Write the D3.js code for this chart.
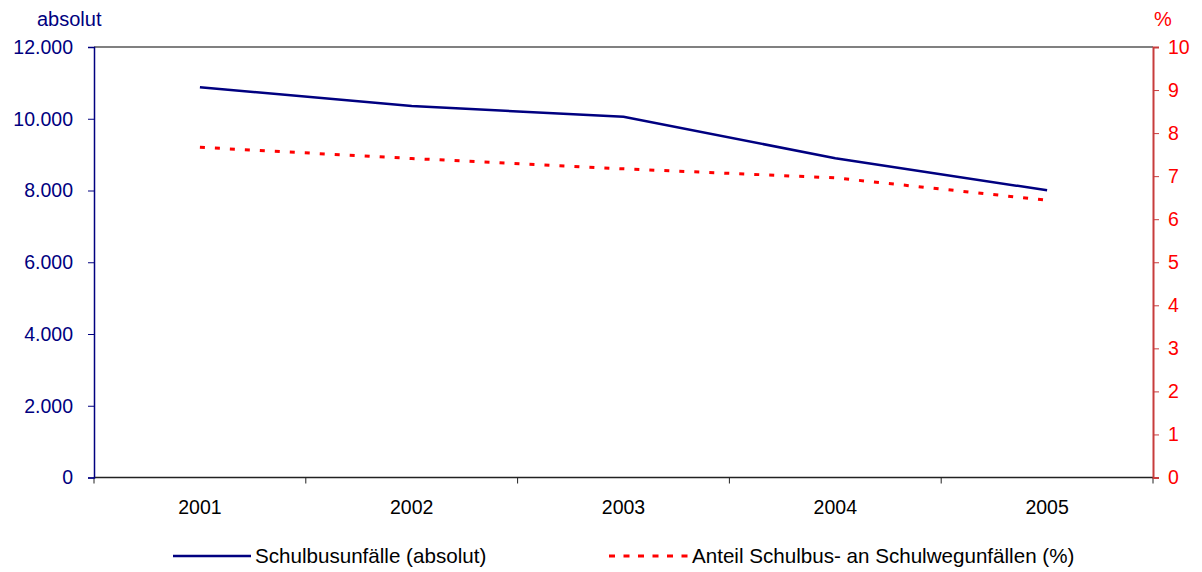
<!DOCTYPE html>
<html>
<head>
<meta charset="utf-8">
<script src="https://cdn.jsdelivr.net/npm/d3@7"></script>
<style>
  body { margin: 0; background: #fff; }
  svg text { font-family: "Liberation Sans", Arial, sans-serif; }
</style>
</head>
<body>
<div id="chart"></div>
<script>
// data
var years = ["2001", "2002", "2003", "2004", "2005"];
var unfaelle = [10880, 10355, 10055, 8900, 8005];
var anteil = [7.67, 7.41, 7.17, 6.96, 6.44];
var leftTicks = [0, 2000, 4000, 6000, 8000, 10000, 12000];
var rightTicks = [0, 1, 2, 3, 4, 5, 6, 7, 8, 9, 10];

var width = 1202, height = 572;
var margin = {top: 47, right: 49, bottom: 94.5, left: 94};
var w = width - margin.left - margin.right,
    h = height - margin.top - margin.bottom;

var navy = "#000080", red = "#ff0000";

var svg = d3.select("#chart").append("svg")
  .attr("width", width).attr("height", height);

var g = svg.append("g")
  .attr("transform", "translate(" + margin.left + "," + margin.top + ")");

var x = d3.scaleBand().domain(years).range([0, w]);
var yL = d3.scaleLinear().domain([0, 12000]).range([h, 0]);
var yR = d3.scaleLinear().domain([0, 10]).range([h, 0]);

var fmt = function (d) { return d3.format(",")(d).replace(/,/g, "."); };

// top border
g.append("line")
  .attr("x1", 0).attr("x2", w).attr("y1", 0).attr("y2", 0)
  .attr("stroke", "#808080").attr("stroke-width", 2);

// x axis with ticks at band edges
var xAxis = g.append("g").attr("transform", "translate(0," + h + ")");
xAxis.append("line")
  .attr("x1", 0).attr("x2", w)
  .attr("stroke", "#222").attr("stroke-width", 1.5);
xAxis.selectAll(".xt")
  .data(d3.range(years.length + 1))
  .enter().append("line")
  .attr("x1", function (i) { return i * x.bandwidth(); })
  .attr("x2", function (i) { return i * x.bandwidth(); })
  .attr("y1", 0).attr("y2", 6)
  .attr("stroke", "#222").attr("stroke-width", 1);
xAxis.selectAll(".xl")
  .data(years)
  .enter().append("text")
  .attr("x", function (d) { return x(d) + x.bandwidth() / 2; })
  .attr("y", 36.5)
  .attr("text-anchor", "middle")
  .style("font-size", "19.5px")
  .style("fill", "#000")
  .text(function (d) { return d; });

// left axis
var la = g.append("g")
  .call(d3.axisLeft(yL).tickValues(leftTicks).tickFormat(fmt).tickSize(6).tickPadding(15));
la.select(".domain").attr("stroke", navy).attr("stroke-width", 1.5);
la.selectAll(".tick line").attr("stroke", navy);
la.selectAll(".tick text")
  .style("font-size", "19.5px").style("fill", navy)
  .attr("font-family", null);

// right axis
var ra = g.append("g")
  .attr("transform", "translate(" + w + ",0)")
  .call(d3.axisRight(yR).tickValues(rightTicks).tickSize(6).tickPadding(9));
ra.select(".domain").attr("stroke", "#c83c3c").attr("stroke-width", 2);
ra.selectAll(".tick line").attr("stroke", "#c83c3c");
ra.selectAll(".tick text")
  .style("font-size", "19.5px").style("fill", red)
  .attr("font-family", null);

// axis titles
svg.append("text")
  .attr("x", 37).attr("y", 26)
  .style("font-size", "20px").style("fill", navy)
  .text("absolut");
svg.append("text")
  .attr("x", 1154).attr("y", 26)
  .style("font-size", "20px").style("fill", red)
  .text("%");

var cx = function (d, i) { return x(years[i]) + x.bandwidth() / 2; };

// absolute line
g.append("path")
  .datum(unfaelle)
  .attr("fill", "none")
  .attr("stroke", navy)
  .attr("stroke-width", 2.5)
  .attr("d", d3.line().x(cx).y(function (d) { return yL(d); }));

// percentage line
g.append("path")
  .datum(anteil)
  .attr("fill", "none")
  .attr("stroke", red)
  .attr("stroke-width", 3)
  .attr("stroke-dasharray", "5,10")
  .attr("d", d3.line().x(cx).y(function (d) { return yR(d); }));

// legend
var leg = svg.append("g");
leg.append("line")
  .attr("x1", 173).attr("x2", 251).attr("y1", 556).attr("y2", 556)
  .attr("stroke", navy).attr("stroke-width", 2.5);
leg.append("text")
  .attr("x", 255).attr("y", 563)
  .style("font-size", "20.6px").style("fill", "#000")
  .text("Schulbusunfälle (absolut)");
leg.append("line")
  .attr("x1", 609).attr("x2", 690).attr("y1", 556).attr("y2", 556)
  .attr("stroke", red).attr("stroke-width", 3)
  .attr("stroke-dasharray", "6,8.5");
leg.append("text")
  .attr("x", 692).attr("y", 563)
  .style("font-size", "20.6px").style("fill", "#000")
  .text("Anteil Schulbus- an Schulwegunfällen (%)");
</script>
</body>
</html>
